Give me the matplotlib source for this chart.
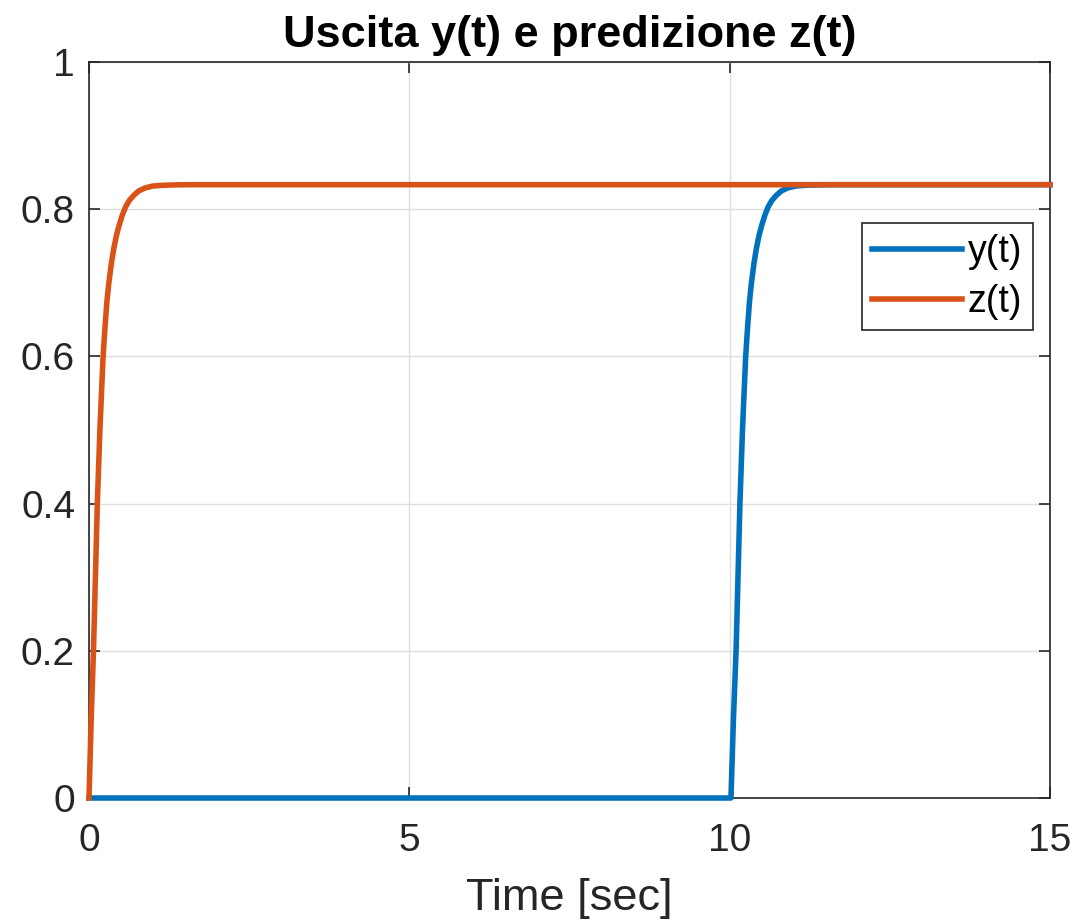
import matplotlib
matplotlib.use("Agg")
import matplotlib.pyplot as plt

# prediction z(t)
t_z = [0, 0.035, 0.07, 0.1, 0.13, 0.17, 0.22, 0.25, 0.28, 0.31, 0.35, 0.39,
       0.43, 0.47, 0.52, 0.57, 0.63, 0.7, 0.78, 0.88, 1.0, 1.15, 1.35, 1.6, 15]
z = [0, 0.11, 0.2, 0.3, 0.4, 0.5, 0.6, 0.64, 0.675, 0.7, 0.727, 0.748,
     0.765, 0.778, 0.792, 0.803, 0.812, 0.819, 0.825, 0.829, 0.8315, 0.8325, 0.833, 0.8333, 0.8333]

# output y(t) (delayed)
t_y = [0, 10.02, 10.06, 10.1, 10.13, 10.16, 10.2, 10.25, 10.28, 10.31, 10.34,
       10.38, 10.42, 10.46, 10.5, 10.55, 10.6, 10.66, 10.73, 10.81, 10.91,
       11.03, 11.18, 11.38, 11.6, 15]
y = [0, 0, 0.11, 0.2, 0.3, 0.4, 0.5, 0.6, 0.64, 0.675, 0.7,
     0.727, 0.748, 0.765, 0.778, 0.792, 0.803, 0.812, 0.819, 0.825, 0.829,
     0.8315, 0.8325, 0.833, 0.8333, 0.8333]

plt.rcParams['font.family'] = ['Liberation Sans', 'DejaVu Sans']
dark = '#262626'

fig = plt.figure(figsize=(10.78, 9.23), dpi=100)
ax = fig.add_axes([89/1078, 1 - 798/923, (1050 - 89)/1078, (798 - 62)/923])

ax.plot(t_y, y, color='#0072BD', lw=4.0, label='y(t)', clip_on=False, zorder=3)
ax.plot(t_z, z, color='#D95319', lw=4.0, label='z(t)', clip_on=False, zorder=3)

ax.set_xlim(0, 15)
ax.set_ylim(0, 1)
ax.set_xticks([0, 5, 10, 15])
ax.set_yticks([0, 0.2, 0.4, 0.6, 0.8, 1])
ax.set_yticklabels(['0', '0.2', '0.4', '0.6', '0.8', '1'])
ax.grid(True, color='#dedede', lw=1.0)
ax.tick_params(direction='in', length=8, width=1.2, top=True, right=True,
               labelsize=28, colors=dark)
ax.tick_params(axis='x', pad=18)
ax.tick_params(axis='y', pad=10)
for s in ax.spines.values():
    s.set_color(dark)
    s.set_linewidth(1.2)

ax.set_xlabel('Time [sec]', fontsize=32.5, color=dark, labelpad=14)
ax.set_title('Uscita y(t) e predizione z(t)', fontsize=32.5, fontweight='bold', pad=11)

leg = ax.legend(loc='upper right', bbox_to_anchor=(0.982, 0.781), fontsize=27,
                fancybox=False, framealpha=1, edgecolor=dark, handlelength=2.4,
                borderpad=0.28, labelspacing=0.38, handletextpad=0.15,
                borderaxespad=0)
leg.get_frame().set_linewidth(1.2)

fig.savefig('out.png', dpi=100)
